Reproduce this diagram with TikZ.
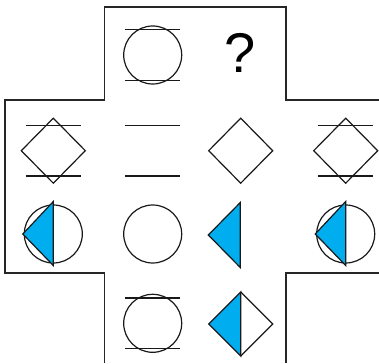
\documentclass[tikz,border=0pt]{standalone}
\usepackage{fontspec}
\setmainfont{Liberation Sans}
\definecolor{cyanfill}{HTML}{00AEEF}
\tikzset{
  shape line/.style={line width=1.2pt, draw=black!90, line join=miter},
  frame line/.style={line width=1.6pt, draw=black!85},
  bluefill/.style={shape line, fill=cyanfill},
  ring/.pic={\draw[shape line] (0,0) circle (29);},
  bars/.pic={\draw[shape line] (-27.7,-25.3) -- (27.7,-25.3) (-27.7,25.3) -- (27.7,25.3);},
  diam/.pic={\draw[shape line] (-32,0) -- (0,-32.5) -- (32,0) -- (0,32.5) -- cycle;},
  lefttri/.pic={\draw[bluefill] (-32,0) -- (0,-32.5) -- (0,32.5) -- cycle;},
  ringtri/.pic={\draw[shape line] (0,0) circle (29);
                \draw[bluefill] (-30.5,0) -- (0,-32.5) -- (0,31.5) -- cycle;},
  halfdiam/.pic={\draw[bluefill] (-32,0) -- (0,-32) -- (0,32) -- cycle;
                 \draw[shape line] (0,-32) -- (32,0) -- (0,32);}
}
\begin{document}
\begin{tikzpicture}[x=1pt,y=-1pt]
\useasboundingbox (0,0) rectangle (379,363);
% cross-shaped frame
\coordinate (f1) at (104.3,363);
\coordinate (f2) at (104.3,272.7);
\coordinate (f3) at (5,272.7);
\coordinate (f4) at (5,100);
\coordinate (f5) at (104.3,100);
\coordinate (f6) at (104.3,7.3);
\coordinate (f7) at (285.7,7.3);
\coordinate (f8) at (285.7,100);
\coordinate (f9) at (379,100);
\coordinate (g1) at (379,272.7);
\coordinate (g2) at (285.7,272.7);
\coordinate (g3) at (285.7,363);
\draw[frame line] (f1) -- (f2) -- (f3) -- (f4) -- (f5) -- (f6) -- (f7) -- (f8) -- (f9);
\draw[frame line] (g1) -- (g2) -- (g3);
% row 0
\pic at (152.7,55) {ring};
\pic at (152.7,55) {bars};
\node[font=\fontsize{56}{60}\selectfont, inner sep=0pt] (q) at (240.5,53) {?};
% row 1
\pic at (53.3,150.7) {diam};
\pic at (53.3,150.7) {bars};
\pic at (152.7,150.7) {bars};
\pic at (240.7,150.7) {diam};
\pic at (345.7,150.7) {diam};
\pic at (345.7,150.7) {bars};
% row 2
\pic at (53.3,234) {ringtri};
\pic at (152.7,234) {ring};
\pic at (240.3,235) {lefttri};
\pic at (345.7,234) {ringtri};
% row 3
\pic at (152.7,323.3) {ring};
\pic at (152.7,323.3) {bars};
\pic at (240.7,324) {halfdiam};
\end{tikzpicture}
\end{document}
